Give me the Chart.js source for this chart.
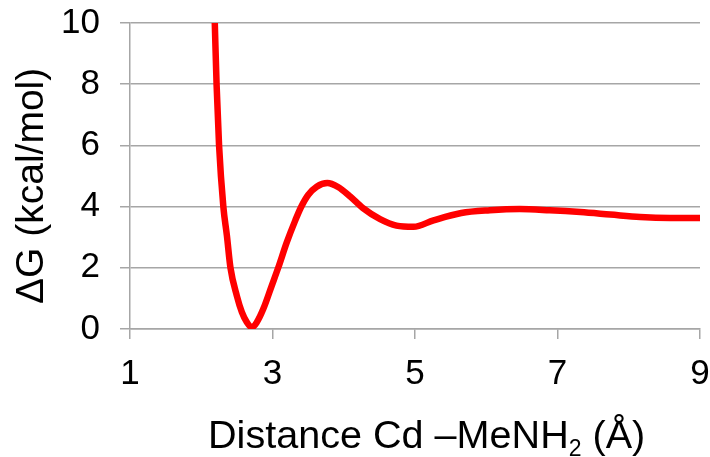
<!DOCTYPE html>
<html>
<head>
<meta charset="utf-8">
<script src="https://cdn.jsdelivr.net/npm/chart.js@4"></script>
<style>
  html, body { margin: 0; padding: 0; background: #fff; }
  #wrap { width: 710px; height: 457px; }
</style>
</head>
<body>
<div id="wrap"><canvas id="pmfChart" width="710" height="457"></canvas></div>
<script>
// Free energy profile
const distance = [2.19, 2.215, 2.25, 2.31, 2.36, 2.41, 2.50, 2.57, 2.64, 2.71, 2.78, 2.87, 2.99, 3.08, 3.20, 3.32, 3.40, 3.50, 3.62, 3.77, 3.92, 4.09, 4.27, 4.51, 4.74, 4.98, 5.26, 5.65, 6.05, 6.47, 6.89, 7.32, 7.74, 8.16, 8.58, 9.0];
const deltaG   = [10.0, 8.0, 6.0, 4.0, 3.05, 2.0, 1.08, 0.55, 0.22, 0.05, 0.22, 0.65, 1.42, 2.0, 2.83, 3.55, 3.98, 4.38, 4.65, 4.77, 4.64, 4.33, 3.95, 3.59, 3.38, 3.34, 3.55, 3.79, 3.88, 3.92, 3.88, 3.82, 3.74, 3.66, 3.63, 3.63];

const xTicks = [1, 3, 5, 7, 9];
const yTicks = [0, 2, 4, 6, 8, 10];

const yTitle = 'ΔG (kcal/mol)';
const xTitleMain = 'Distance Cd –MeNH';
const xTitleSub = '2';
const xTitleTail = ' (Å)';

const FONT = "'Liberation Sans', Arial, sans-serif";
const GRID = '#a6a6a6';

// axis titles drawn by hand so the subscript sits right
const axisTitles = {
    id: 'axisTitles',
    afterDraw(chart) {
        const ctx = chart.ctx;
        const area = chart.chartArea;
        ctx.save();
        ctx.fillStyle = '#000';
        ctx.textAlign = 'left';
        ctx.textBaseline = 'alphabetic';

        // y title, rotated
        ctx.save();
        ctx.font = '39px ' + FONT;
        ctx.translate(43, area.bottom - 25);
        ctx.rotate(-Math.PI / 2);
        ctx.fillText(yTitle, 0, 0);
        ctx.restore();

        // x title with subscript
        let x = area.left + 78;
        const base = chart.height - 9;
        ctx.font = '39.6px ' + FONT;
        ctx.fillText(xTitleMain, x, base);
        x += ctx.measureText(xTitleMain).width;
        ctx.font = '23px ' + FONT;
        ctx.fillText(xTitleSub, x, base + 8);
        x += ctx.measureText(xTitleSub).width;
        ctx.font = '39.6px ' + FONT;
        ctx.fillText(xTitleTail, x, base);
        ctx.restore();
    }
};

new Chart(document.getElementById('pmfChart'), {
    type: 'line',
    data: {
        datasets: [{
            data: distance.map((d, i) => ({ x: d, y: deltaG[i] })),
            borderColor: '#ff0000',
            borderWidth: 6.5,
            pointRadius: 0,
            cubicInterpolationMode: 'monotone',
            fill: false
        }]
    },
    options: {
        responsive: false,
        animation: false,
        layout: { padding: { top: 23, right: 10, left: 0, bottom: 0 } },
        plugins: {
            legend: { display: false },
            tooltip: { enabled: false }
        },
        scales: {
            x: {
                type: 'linear',
                min: 1,
                max: 9,
                afterBuildTicks: s => { s.ticks = xTicks.map(v => ({ value: v })); },
                afterFit: s => { s.height = 128; s.paddingLeft = 0; s.paddingRight = 0; },
                grid: { drawOnChartArea: false, drawTicks: true, tickLength: 10, color: GRID, lineWidth: 1.5 },
                border: { color: GRID, width: 1.5 },
                ticks: { color: '#000', padding: 14, maxRotation: 0, font: { family: FONT, size: 35 } }
            },
            y: {
                type: 'linear',
                min: 0,
                max: 10,
                afterBuildTicks: s => { s.ticks = yTicks.map(v => ({ value: v })); },
                afterFit: s => { s.width = 130; s.paddingTop = 0; s.paddingBottom = 0; },
                grid: { drawOnChartArea: true, drawTicks: true, tickLength: 10, color: GRID, lineWidth: 1.5 },
                border: { color: GRID, width: 1.5 },
                ticks: { color: '#000', padding: 20, font: { family: FONT, size: 35 } }
            }
        }
    },
    plugins: [axisTitles]
});
</script>
</body>
</html>
